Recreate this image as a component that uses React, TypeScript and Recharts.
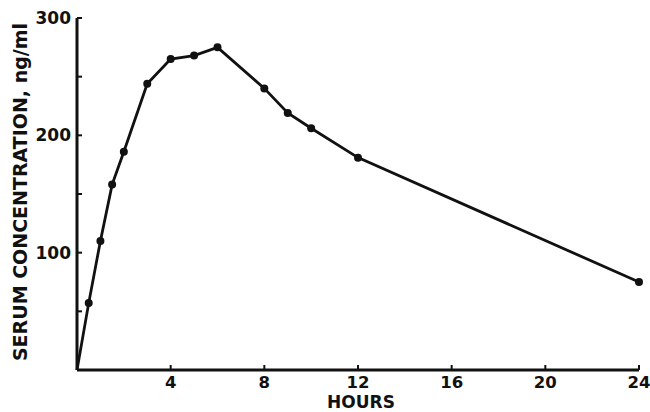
import { LineChart, Line, XAxis, YAxis, Label } from 'recharts'

// serum concentration (ng/ml) vs hours after dose
const hours = [0, 0.5, 1, 1.5, 2, 3, 4, 5, 6, 8, 9, 10, 12, 24]
const serum = [0, 57, 110, 158, 186, 244, 265, 268, 275, 240, 219, 206, 181, 75]
const xTicks = [4, 8, 12, 16, 20, 24]
const yTicks = [50, 100, 150, 200, 250, 300]
const yLabelled = [100, 200, 300]

const data = hours.map((h, i) => ({ h, v: serum[i] }))

const INK = '#111'
const FONT = '"DejaVu Sans", Arial, sans-serif'

const YTick = ({ x, y, payload }: any) => {
  const ax = x + 6
  return (
    <g>
      <line x1={ax} x2={ax + 5} y1={y} y2={y} stroke={INK} strokeWidth={2} />
      {yLabelled.includes(payload.value) && (
        <text x={x} y={y} dy="0.36em" textAnchor="end" fill={INK}
          fontFamily={FONT} fontWeight="bold" fontSize={17}>
          {payload.value}
        </text>
      )}
    </g>
  )
}

const XTick = ({ x, y, payload }: any) => {
  const ay = y - 6
  return (
    <g>
      <line x1={x} x2={x} y1={ay} y2={ay - 5} stroke={INK} strokeWidth={2} />
      <text x={x} y={y} dy="0.72em" textAnchor="middle" fill={INK}
        fontFamily={FONT} fontWeight="bold" fontSize={16.5}>
        {payload.value}
      </text>
    </g>
  )
}

// the origin point carries no marker in the original
const Dot = ({ cx, cy, index }: any) =>
  index === 0 ? <g key={index} /> : <circle key={index} cx={cx} cy={cy} r={4} fill={INK} />

export default function App() {
  return (
    <div style={{ position: 'absolute', left: 0, top: 0, background: '#fff' }}>
      <LineChart width={650} height={412} data={data}
        margin={{ top: 18, right: 11, left: 0, bottom: 0 }}>
        <XAxis
          dataKey="h"
          type="number"
          domain={[0, 24]}
          ticks={xTicks}
          tick={<XTick />}
          tickLine={false}
          tickSize={0}
          tickMargin={6}
          height={42}
          axisLine={{ stroke: INK, strokeWidth: 3 }}
        >
          <Label
            content={() => (
              <text x={361} y={408} textAnchor="middle" fill={INK}
                fontFamily={FONT} fontWeight="bold" fontSize={17}>
                HOURS
              </text>
            )}
          />
        </XAxis>
        <YAxis
          type="number"
          domain={[0, 300]}
          ticks={yTicks}
          tick={<YTick />}
          tickLine={false}
          tickSize={0}
          tickMargin={6}
          width={77}
          axisLine={{ stroke: INK, strokeWidth: 3 }}
        >
          <Label
            content={() => (
              <text x={20} y={192} transform="rotate(-90 20 192)" dy="0.36em"
                textAnchor="middle" fill={INK}
                fontFamily={FONT} fontWeight="bold" fontSize={19}>
                SERUM CONCENTRATION, ng/ml
              </text>
            )}
          />
        </YAxis>
        <Line
          dataKey="v"
          type="linear"
          stroke={INK}
          strokeWidth={2.8}
          dot={<Dot />}
          isAnimationActive={false}
        />
      </LineChart>
    </div>
  )
}
